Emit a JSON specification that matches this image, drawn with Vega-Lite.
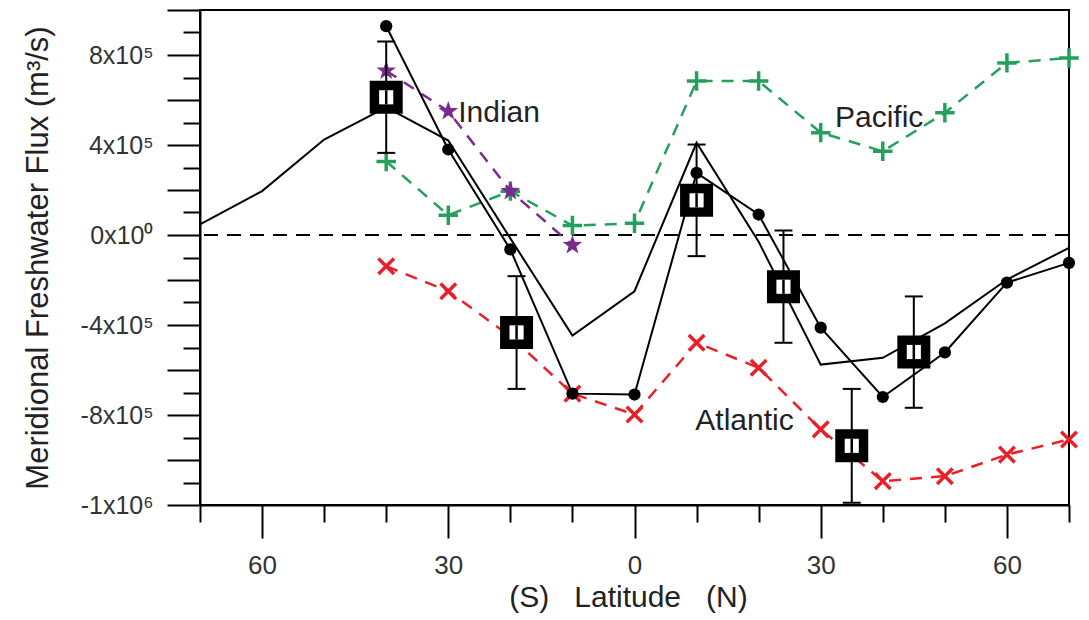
{
  "$schema": "https://vega.github.io/schema/vega-lite/v6.json",
  "autosize": "none",
  "width": 869,
  "height": 495,
  "padding": {"left": 200, "top": 10, "right": 20, "bottom": 115},
  "background": "white",
  "config": {
    "view": {"stroke": "black", "strokeWidth": 2},
    "font": "Liberation Sans"
  },
  "datasets": {
    "series": [
      {"series": "Indian", "lat": -40, "flux": 730000},
      {"series": "Indian", "lat": -30, "flux": 550000},
      {"series": "Indian", "lat": -20, "flux": 195000},
      {"series": "Indian", "lat": -10, "flux": -45000},
      {"series": "Pacific", "lat": -40, "flux": 327000},
      {"series": "Pacific", "lat": -30, "flux": 88000},
      {"series": "Pacific", "lat": -20, "flux": 195000},
      {"series": "Pacific", "lat": -10, "flux": 42000},
      {"series": "Pacific", "lat": 0, "flux": 52000},
      {"series": "Pacific", "lat": 10, "flux": 684000},
      {"series": "Pacific", "lat": 20, "flux": 684000},
      {"series": "Pacific", "lat": 30, "flux": 455000},
      {"series": "Pacific", "lat": 40, "flux": 372000},
      {"series": "Pacific", "lat": 50, "flux": 543000},
      {"series": "Pacific", "lat": 60, "flux": 765000},
      {"series": "Pacific", "lat": 70, "flux": 787000},
      {"series": "Atlantic", "lat": -40, "flux": -139000},
      {"series": "Atlantic", "lat": -30, "flux": -250000},
      {"series": "Atlantic", "lat": -20, "flux": -450000},
      {"series": "Atlantic", "lat": -10, "flux": -705000},
      {"series": "Atlantic", "lat": 0, "flux": -798000},
      {"series": "Atlantic", "lat": 10, "flux": -479000},
      {"series": "Atlantic", "lat": 20, "flux": -590000},
      {"series": "Atlantic", "lat": 30, "flux": -864000},
      {"series": "Atlantic", "lat": 40, "flux": -1094000},
      {"series": "Atlantic", "lat": 50, "flux": -1072000},
      {"series": "Atlantic", "lat": 60, "flux": -976000},
      {"series": "Atlantic", "lat": 70, "flux": -909000}
    ],
    "modelA": [
      {"lat": -70, "flux": 47000},
      {"lat": -60, "flux": 195000},
      {"lat": -50, "flux": 424000},
      {"lat": -40, "flux": 567000},
      {"lat": -30, "flux": 420000},
      {"lat": -20, "flux": -15000},
      {"lat": -10, "flux": -447000},
      {"lat": 0, "flux": -250000},
      {"lat": 10, "flux": 410000},
      {"lat": 20, "flux": -30000},
      {"lat": 30, "flux": -576000},
      {"lat": 40, "flux": -546000},
      {"lat": 50, "flux": -393000},
      {"lat": 60, "flux": -198000},
      {"lat": 70, "flux": -57000}
    ],
    "modelB": [
      {"lat": -40, "flux": 928000},
      {"lat": -30, "flux": 380000},
      {"lat": -20, "flux": -64000},
      {"lat": -10, "flux": -705000},
      {"lat": 0, "flux": -709000},
      {"lat": 10, "flux": 276000},
      {"lat": 20, "flux": 91000},
      {"lat": 30, "flux": -412000},
      {"lat": 40, "flux": -720000},
      {"lat": 50, "flux": -522000},
      {"lat": 60, "flux": -212000},
      {"lat": 70, "flux": -124000}
    ],
    "obs": [
      {"lat": -40, "flux": 612000, "lo": 365000, "hi": 860000},
      {"lat": -19, "flux": -433000, "lo": -684000, "hi": -183000},
      {"lat": 10, "flux": 154000, "lo": -94000, "hi": 402000},
      {"lat": 24, "flux": -230000, "lo": -479000, "hi": 20000},
      {"lat": 35, "flux": -937000, "lo": -1190000, "hi": -684000},
      {"lat": 45, "flux": -520000, "lo": -768000, "hi": -273000}
    ],
    "labels": [
      {"label": "Indian", "lat": -28.4, "flux": 544000},
      {"label": "Pacific", "lat": 32.3, "flux": 522000},
      {"label": "Atlantic", "lat": 9.8, "flux": -828000}
    ]
  },
  "resolve": {"axis": {"x": "independent", "y": "independent"}},
  "layer": [
    {
      "data": {"name": "modelA"},
      "mark": {"type": "line", "color": "black", "strokeWidth": 2},
      "encoding": {
        "x": {
          "field": "lat", "type": "quantitative",
          "scale": {"domain": [-70, 70], "nice": false, "zero": false},
          "axis": {
            "orient": "bottom",
            "values": [-60, -30, 0, 30, 60],
            "title": "(S)\u00a0\u00a0 Latitude\u00a0\u00a0 (N)",
            "titleFont": "Liberation Sans", "titleFontSize": 30, "titleFontWeight": "normal", "titleColor": "#222",
            "titlePadding": 4, "titleX": 428,
            "labelExpr": "datum.value < 0 ? '' + (-datum.value) : '' + datum.value",
            "labelFont": "Liberation Sans", "labelFontSize": 26, "labelColor": "#333",
            "labelPadding": 14, "labelOverlap": false, "labelFlush": false, "labelBound": false,
            "tickSize": 33, "tickColor": "black", "tickWidth": 2,
            "domainColor": "black", "domainWidth": 2,
            "grid": false
          }
        },
        "y": {
          "field": "flux", "type": "quantitative",
          "scale": {"domain": [-1200000, 1000000], "nice": false, "zero": false},
          "axis": {
            "orient": "left",
            "values": [-1200000, -1000000, -800000, -600000, -400000, -200000, 0, 200000, 400000, 600000, 800000, 1000000],
            "title": "Meridional Freshwater Flux (m³/s)",
            "titleFont": "Liberation Sans", "titleFontSize": 31, "titleFontWeight": "normal", "titleColor": "#222",
            "titlePadding": 26,
            "labelExpr": "datum.value === 800000 ? '8x10⁵' : datum.value === 400000 ? '4x10⁵' : datum.value === 0 ? '0x10⁰' : datum.value === -400000 ? '-4x10⁵' : datum.value === -800000 ? '-8x10⁵' : datum.value === -1200000 ? '-1x10⁶' : ''",
            "labelFont": "Liberation Sans", "labelFontSize": 25, "labelColor": "#333",
            "labelPadding": 14, "labelOverlap": false, "labelFlush": false, "labelBound": false,
            "tickSize": 33, "tickColor": "black", "tickWidth": 2,
            "domainColor": "black", "domainWidth": 2,
            "grid": false
          }
        }
      }
    },
    {
      "data": {"name": "modelA"},
      "mark": {"type": "rule", "color": "black", "strokeWidth": 2, "strokeDash": [14, 9]},
      "encoding": {
        "y": {"datum": 0, "type": "quantitative",
          "axis": {
            "orient": "left",
            "values": [-1100000, -900000, -700000, -500000, -300000, -100000, 100000, 300000, 500000, 700000, 900000],
            "title": null, "labels": false, "domain": false, "grid": false,
            "tickSize": 17, "tickColor": "black", "tickWidth": 2
          }
        }
      }
    },
    {
      "data": {"name": "series"},
      "transform": [{"filter": "datum.series === 'Atlantic'"}],
      "mark": {"type": "line", "strokeWidth": 2.5, "strokeDash": [12, 9], "color": "#e8202a"},
      "encoding": {
        "x": {"field": "lat", "type": "quantitative",
          "axis": {
            "orient": "bottom",
            "values": [-70, -50, -40, -20, -10, 10, 20, 40, 50, 70],
            "title": null, "labels": false, "domain": false, "grid": false,
            "tickSize": 17, "tickColor": "black", "tickWidth": 2
          }
        },
        "y": {"field": "flux", "type": "quantitative", "axis": null}
      }
    },
    {
      "data": {"name": "series"},
      "transform": [{"filter": "datum.series === 'Pacific'"}],
      "mark": {"type": "line", "strokeWidth": 2.5, "strokeDash": [12, 9], "color": "#25a05c"},
      "encoding": {
        "x": {"field": "lat", "type": "quantitative", "axis": null},
        "y": {"field": "flux", "type": "quantitative", "axis": null}
      }
    },
    {
      "data": {"name": "series"},
      "transform": [{"filter": "datum.series === 'Indian'"}],
      "mark": {"type": "line", "strokeWidth": 2.5, "strokeDash": [12, 9], "color": "#7b2a8f"},
      "encoding": {
        "x": {"field": "lat", "type": "quantitative", "axis": null},
        "y": {"field": "flux", "type": "quantitative", "axis": null}
      }
    },
    {
      "data": {"name": "series"},
      "transform": [{"filter": "datum.series === 'Pacific'"}],
      "mark": {"type": "point", "shape": "M-1,0L1,0M0,-1L0,1", "size": 380, "strokeWidth": 3.5, "color": "#25a05c", "filled": false, "opacity": 1},
      "encoding": {
        "x": {"field": "lat", "type": "quantitative", "axis": null},
        "y": {"field": "flux", "type": "quantitative", "axis": null}
      }
    },
    {
      "data": {"name": "series"},
      "transform": [{"filter": "datum.series === 'Atlantic'"}],
      "mark": {"type": "point", "shape": "M-0.8,-0.8L0.8,0.8M-0.8,0.8L0.8,-0.8", "size": 380, "strokeWidth": 3.5, "color": "#e8202a", "filled": false, "opacity": 1},
      "encoding": {
        "x": {"field": "lat", "type": "quantitative", "axis": null},
        "y": {"field": "flux", "type": "quantitative", "axis": null}
      }
    },
    {
      "data": {"name": "series"},
      "transform": [{"filter": "datum.series === 'Indian'"}],
      "mark": {"type": "point", "shape": "M0,-1L0.235,-0.324L0.951,-0.309L0.38,0.124L0.588,0.809L0,0.4L-0.588,0.809L-0.38,0.124L-0.951,-0.309L-0.235,-0.324Z", "size": 420, "color": "#7b2a8f", "filled": true, "opacity": 1},
      "encoding": {
        "x": {"field": "lat", "type": "quantitative", "axis": null},
        "y": {"field": "flux", "type": "quantitative", "axis": null}
      }
    },
    {
      "data": {"name": "modelB"},
      "mark": {"type": "line", "color": "black", "strokeWidth": 2},
      "encoding": {
        "x": {"field": "lat", "type": "quantitative", "axis": null},
        "y": {"field": "flux", "type": "quantitative", "axis": null}
      }
    },
    {
      "data": {"name": "modelB"},
      "mark": {"type": "point", "shape": "circle", "size": 150, "color": "black", "filled": true, "opacity": 1},
      "encoding": {
        "x": {"field": "lat", "type": "quantitative", "axis": null},
        "y": {"field": "flux", "type": "quantitative", "axis": null}
      }
    },
    {
      "data": {"name": "obs"},
      "mark": {"type": "rule", "color": "black", "strokeWidth": 2},
      "encoding": {
        "x": {"field": "lat", "type": "quantitative", "axis": null},
        "y": {"field": "lo", "type": "quantitative", "axis": null},
        "y2": {"field": "hi"}
      }
    },
    {
      "data": {"name": "obs"},
      "mark": {"type": "point", "shape": "M-1,0L1,0", "size": 324, "strokeWidth": 2, "color": "black", "filled": false, "opacity": 1},
      "encoding": {
        "x": {"field": "lat", "type": "quantitative", "axis": null},
        "y": {"field": "lo", "type": "quantitative", "axis": null}
      }
    },
    {
      "data": {"name": "obs"},
      "mark": {"type": "point", "shape": "M-1,0L1,0", "size": 324, "strokeWidth": 2, "color": "black", "filled": false, "opacity": 1},
      "encoding": {
        "x": {"field": "lat", "type": "quantitative", "axis": null},
        "y": {"field": "hi", "type": "quantitative", "axis": null}
      }
    },
    {
      "data": {"name": "obs"},
      "mark": {"type": "point", "shape": "square", "size": 1089, "color": "black", "filled": true, "opacity": 1},
      "encoding": {
        "x": {"field": "lat", "type": "quantitative", "axis": null},
        "y": {"field": "flux", "type": "quantitative", "axis": null}
      }
    },
    {
      "data": {"name": "obs"},
      "mark": {"type": "point", "shape": "square", "size": 200, "color": "white", "filled": true, "opacity": 1},
      "encoding": {
        "x": {"field": "lat", "type": "quantitative", "axis": null},
        "y": {"field": "flux", "type": "quantitative", "axis": null}
      }
    },
    {
      "data": {"name": "obs"},
      "mark": {"type": "point", "shape": "M0,-1L0,1", "size": 200, "strokeWidth": 2.5, "color": "black", "filled": false, "opacity": 1},
      "encoding": {
        "x": {"field": "lat", "type": "quantitative", "axis": null},
        "y": {"field": "flux", "type": "quantitative", "axis": null}
      }
    },
    {
      "data": {"name": "labels"},
      "mark": {"type": "text", "align": "left", "baseline": "middle", "font": "Liberation Sans", "fontSize": 30, "color": "#222"},
      "encoding": {
        "x": {"field": "lat", "type": "quantitative", "axis": null},
        "y": {"field": "flux", "type": "quantitative", "axis": null},
        "text": {"field": "label"}
      }
    }
  ]
}
